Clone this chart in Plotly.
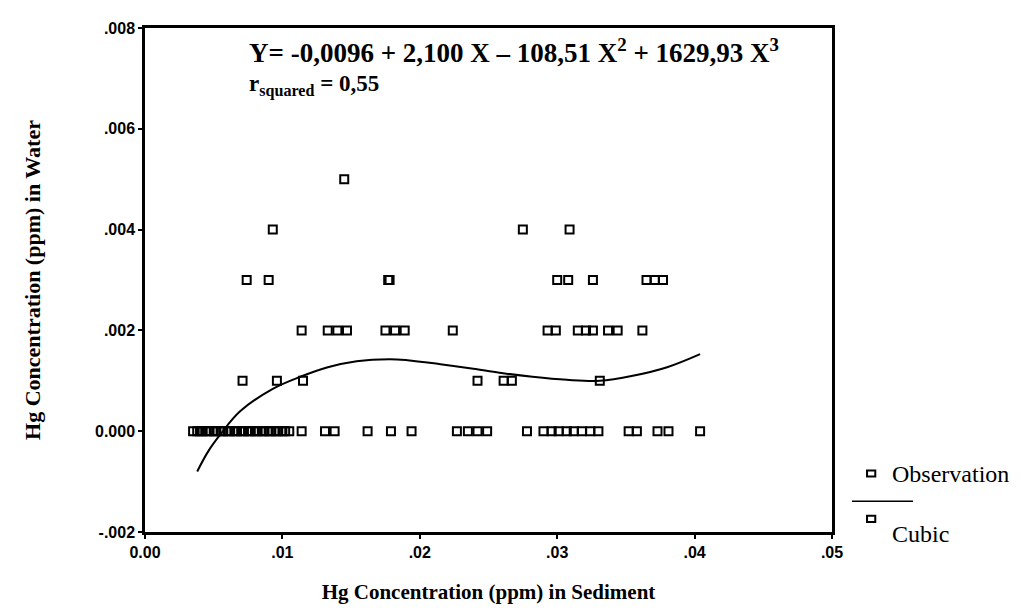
#!/usr/bin/env python3
"""Hg in water vs Hg in sediment, with a cubic fit curve."""

import plotly.graph_objects as go

# Observations, grouped by water concentration level (ppm)
obs_x_0000 = [0.0035, 0.0038, 0.0040, 0.0042, 0.0045, 0.0047, 0.0050, 0.0052,
              0.0055, 0.0057, 0.0060, 0.0062, 0.0065, 0.0067, 0.0070, 0.0072,
              0.0075, 0.0077, 0.0080, 0.0082, 0.0085, 0.0087, 0.0090, 0.0092,
              0.0095, 0.0097, 0.0100, 0.0102, 0.0105,
              0.0114, 0.0131, 0.0138, 0.0162, 0.0179, 0.0194, 0.0227, 0.0235,
              0.0242, 0.0249, 0.0278, 0.0290, 0.0296, 0.0301, 0.0307, 0.0312,
              0.0318, 0.0324, 0.0330, 0.0352, 0.0358, 0.0373, 0.0381, 0.0404]
obs_x_0001 = [0.0071, 0.0096, 0.0115, 0.0242, 0.0261, 0.0267, 0.0331]
obs_x_0002 = [0.0114, 0.0133, 0.0140, 0.0147, 0.0175, 0.0182, 0.0189, 0.0224,
              0.0293, 0.0299, 0.0315, 0.0321, 0.0326, 0.0337, 0.0344, 0.0362]
obs_x_0003 = [0.0074, 0.0090, 0.0177, 0.0178, 0.0300, 0.0308, 0.0326,
              0.0365, 0.0371, 0.0377]
obs_x_0004 = [0.0093, 0.0275, 0.0309]
obs_x_0005 = [0.0145]

levels = [0.000, 0.001, 0.002, 0.003, 0.004, 0.005]
groups = [obs_x_0000, obs_x_0001, obs_x_0002, obs_x_0003, obs_x_0004, obs_x_0005]

# Fitted cubic curve
curve_x = [0.0038, 0.0046, 0.0055, 0.0069, 0.0093, 0.0113, 0.0133, 0.0154,
           0.0178, 0.0191, 0.0215, 0.0239, 0.0258, 0.0282, 0.0307, 0.0331,
           0.0355, 0.0380, 0.0404]
curve_y = [-0.0008, -0.0004, -0.00006, 0.00039, 0.00084, 0.00108, 0.00127,
           0.00139, 0.00143, 0.00141, 0.00133, 0.00124, 0.00116, 0.00108,
           0.00102, 0.00100, 0.00110, 0.00127, 0.00153]

x_ticks = [0.00, 0.01, 0.02, 0.03, 0.04, 0.05]
x_tick_labels = ["0.00", ".01", ".02", ".03", ".04", ".05"]
y_ticks = [-0.002, 0.000, 0.002, 0.004, 0.006, 0.008]
y_tick_labels = ["-.002", "0.000", ".002", ".004", ".006", ".008"]

SERIF = "Liberation Serif, Times New Roman, serif"
SANS = "Liberation Sans, Arial, sans-serif"

obs_x, obs_y = [], []
for lvl, xs in zip(levels, groups):
    obs_x += xs
    obs_y += [lvl] * len(xs)

fig = go.Figure()

fig.add_trace(go.Scatter(
    x=obs_x, y=obs_y, mode="markers", name="Observation",
    marker=dict(symbol="square-open", size=8, color="black",
                line=dict(color="black", width=2)),
))

fig.add_trace(go.Scatter(
    x=curve_x, y=curve_y, mode="lines", name="Cubic",
    line=dict(color="black", width=2, shape="spline", smoothing=1.0),
))

# equation + r squared
fig.add_annotation(
    x=0.148, y=0.955, xref="paper", yref="paper", xanchor="left", yanchor="middle",
    text="<b>Y= -0,0096 + 2,100 X – 108,51 X<sup>2</sup> + 1629,93 X<sup>3</sup></b>",
    showarrow=False, font=dict(family=SERIF, size=27, color="black"),
)
fig.add_annotation(
    x=0.148, y=0.886, xref="paper", yref="paper", xanchor="left", yanchor="middle",
    text="<b>r<sub>squared</sub> = 0,55</b>",
    showarrow=False, font=dict(family=SERIF, size=23, color="black"),
)

# SPSS-style legend drawn outside the plot area
legend_font = dict(family=SERIF, size=24, color="black")
fig.add_annotation(x=1.085, y=0.116, xref="paper", yref="paper",
                   xanchor="left", yanchor="middle", showarrow=False,
                   text="Observation", font=legend_font)
fig.add_annotation(x=1.085, y=-0.004, xref="paper", yref="paper",
                   xanchor="left", yanchor="middle", showarrow=False,
                   text="Cubic", font=legend_font)
for y0, y1 in [(0.110, 0.122), (0.020, 0.032)]:
    fig.add_shape(type="rect", xref="paper", yref="paper",
                  x0=1.051, x1=1.063, y0=y0, y1=y1,
                  line=dict(color="black", width=2), fillcolor="white")
fig.add_shape(type="line", xref="paper", yref="paper",
              x0=1.029, x1=1.118, y0=0.061, y1=0.061,
              line=dict(color="black", width=1.5))

# page body has an 8px margin, so the figure is 8px smaller than the window
fig.update_layout(
    width=1014, height=606,
    margin=dict(l=137, r=190, t=14, b=82),
    paper_bgcolor="white", plot_bgcolor="white",
    showlegend=False,
)

fig.update_xaxes(
    range=[0, 0.05], tickvals=x_ticks, ticktext=x_tick_labels,
    showgrid=False, zeroline=False, showline=True, linecolor="black",
    linewidth=2.5, mirror=True, ticks="outside", ticklen=4, tickwidth=2,
    tickcolor="black",
    tickfont=dict(family=SANS, size=16, color="black", weight="bold"),
    title=dict(text="<b>Hg Concentration (ppm) in Sediment</b>",
               font=dict(family=SERIF, size=21, color="black"), standoff=25),
)
fig.update_yaxes(
    range=[-0.002, 0.008], tickvals=y_ticks, ticktext=y_tick_labels,
    showgrid=False, zeroline=False, showline=True, linecolor="black",
    linewidth=2.5, mirror=True, ticks="outside", ticklen=4, tickwidth=2,
    tickcolor="black",
    tickfont=dict(family=SANS, size=16, color="black", weight="bold"),
    title=dict(text="<b>Hg Concentration (ppm) in Water</b>",
               font=dict(family=SERIF, size=22, color="black"), standoff=49),
)

fig.write_html("out.html")
